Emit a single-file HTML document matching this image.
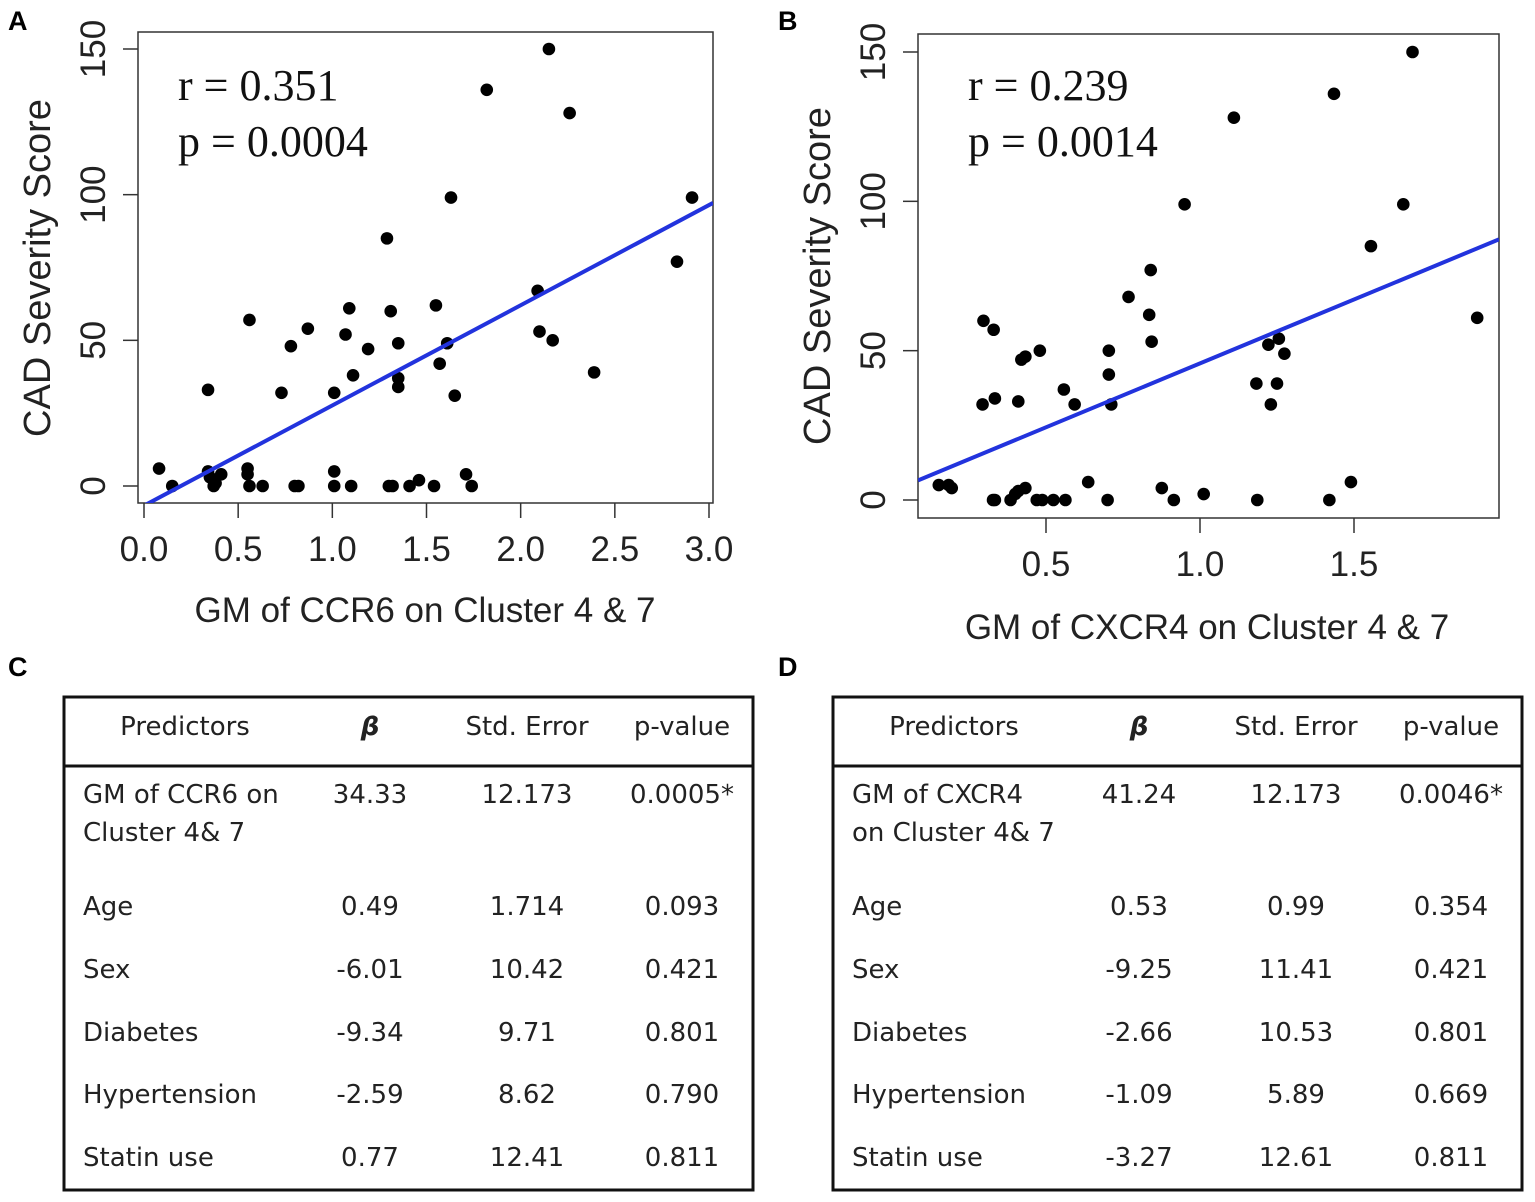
<!DOCTYPE html>
<html><head><meta charset="utf-8"><style>
body{margin:0;background:#fff;}
svg{display:block;}
.tk{font-family:"Liberation Sans",sans-serif;font-size:35px;fill:#222;}
.ttl{font-family:"Liberation Sans",sans-serif;font-size:35px;fill:#222;}
.ytl{font-family:"Liberation Sans",sans-serif;font-size:38px;fill:#222;}
.ann{font-family:"Liberation Serif",serif;font-size:44px;fill:#111;}
.lt{font-family:"Liberation Sans",sans-serif;font-size:27px;font-weight:bold;fill:#000;}
.tb{font-family:"DejaVu Sans","Liberation Sans",sans-serif;font-size:26px;fill:#222;}
</style></head><body>
<svg id="fig" width="1535" height="1202" viewBox="0 0 1535 1202">
<rect width="1535" height="1202" fill="#fff"/>
<text class="lt" x="8" y="30">A</text>
<text class="lt" x="778" y="30">B</text>
<text class="lt" x="8" y="676">C</text>
<text class="lt" x="778" y="676">D</text>
<g id="plotA"></g>
<g id="plotB"></g>
<g id="tabC"></g>
<g id="tabD"></g>
</svg>
<script>
const NS='http://www.w3.org/2000/svg';
// Panel A data
const aX=[0.08,0.15,0.34,0.35,0.34,0.37,0.38,0.41,0.55,0.55,0.56,0.56,0.63,0.73,0.78,0.80,0.82,0.87,1.01,1.01,1.01,1.07,1.09,1.10,1.11,1.19,1.29,1.30,1.32,1.31,1.35,1.35,1.35,1.41,1.46,1.54,1.55,1.57,1.61,1.63,1.65,1.71,1.74,1.82,2.09,2.10,2.15,2.17,2.26,2.39,2.83,2.91];
const aY=[6,0,33,3,5,0,1,4,6,4,0,57,0,32,48,0,0,54,32,5,0,52,61,0,38,47,85,0,0,60,49,37,34,0,2,0,62,42,49,99,31,4,0,136,67,53,150,50,128,39,77,99];
const aXTicks=[0,0.5,1,1.5,2,2.5,3];
const aXLabels=["0.0","0.5","1.0","1.5","2.0","2.5","3.0"];
const aYTicks=[0,50,100,150];
// Panel B data
const bX=[0.152,0.184,0.194,0.297,0.33,0.294,0.334,0.328,0.334,0.385,0.40,0.41,0.433,0.42,0.433,0.41,0.47,0.488,0.48,0.524,0.558,0.563,0.593,0.637,0.70,0.704,0.704,0.712,0.768,0.835,0.843,0.84,0.876,0.915,0.95,1.012,1.11,1.183,1.186,1.222,1.256,1.25,1.274,1.23,1.42,1.435,1.49,1.555,1.66,1.69,1.90];
const bY=[5,5,4,60,57,32,34,0,0,0,2,3,4,47,48,33,0,0,50,0,37,0,32,6,0,50,42,32,68,62,53,77,4,0,99,2,128,39,0,52,54,39,49,32,0,136,6,85,99,150,61];
const bXTicks=[0.5,1,1.5];
const bXLabels=["0.5","1.0","1.5"];
const bYTicks=[0,50,100,150];

function el(tag,attrs,parent,txt){const e=document.createElementNS(NS,tag);for(const k in attrs)e.setAttribute(k,attrs[k]);if(txt!==undefined)e.textContent=txt;parent.appendChild(e);return e;}

function plot(g,cfg,X,Y,xt,xl,yt){
  const sx=v=>cfg.x0+(v-cfg.xa)*(cfg.x1-cfg.x0)/(cfg.xb-cfg.xa);
  const sy=v=>cfg.y0-(v)*(cfg.y0-cfg.y1)/150;
  const box=el('rect',{x:cfg.bl,y:cfg.bt,width:cfg.br-cfg.bl,height:cfg.bb-cfg.bt,fill:'none',stroke:'#333','stroke-width':1.5},g);
  
  
  xt.forEach((t,i)=>{
    const l=el('line',{x1:sx(t),x2:sx(t),y1:cfg.bb,y2:cfg.bb+15,stroke:'#333','stroke-width':1.5},g);
    
    
    const tx=el('text',{class:'tk',x:sx(t),y:cfg.bb+58,'text-anchor':'middle'},g,xl[i]);
    
    
  });
  yt.forEach(t=>{
    const l=el('line',{x1:cfg.bl-15,x2:cfg.bl,y1:sy(t),y2:sy(t),stroke:'#333','stroke-width':1.5},g);
    
    
    const tx=el('text',{class:'tk',x:0,y:0,'text-anchor':'middle',transform:`translate(${cfg.bl-33},${sy(t)}) rotate(-90)`},g,String(t));
    
    
  });
  const n=X.length;let mx=0,my=0;for(let i=0;i<n;i++){mx+=X[i];my+=Y[i];}mx/=n;my/=n;
  let sxy=0,sxx=0;for(let i=0;i<n;i++){sxy+=(X[i]-mx)*(Y[i]-my);sxx+=(X[i]-mx)**2;}
  const b=sxy/sxx,a=my-b*mx;
  const xs=cfg.xa+(cfg.bl-cfg.x0)*(cfg.xb-cfg.xa)/(cfg.x1-cfg.x0);
  const xe=cfg.xa+(cfg.br-cfg.x0)*(cfg.xb-cfg.xa)/(cfg.x1-cfg.x0);
  for(let i=0;i<n;i++){
    const c=el('circle',{cx:sx(X[i]),cy:sy(Y[i]),r:6.3,fill:'#000'},g);
    
    
  }
  const cp=el('clipPath',{id:cfg.id+'clip'},g);el('rect',{x:cfg.bl,y:cfg.bt,width:cfg.br-cfg.bl,height:cfg.bb-cfg.bt},cp);
  const ln=el('line',{x1:sx(xs),y1:sy(a+b*xs),x2:sx(xe),y2:sy(a+b*xe),stroke:'#2233dd','stroke-width':4,'clip-path':`url(#${cfg.id}clip)`},g);
  
  
  const r=el('text',{class:'ann',x:cfg.ax,y:cfg.ay},g,cfg.r);
  
  
  const p=el('text',{class:'ann',x:cfg.ax,y:cfg.ay+56},g,cfg.p);
  
  
  const xtl=el('text',{class:'ttl',x:cfg.xtx,y:cfg.xty,'text-anchor':'middle'},g,cfg.xt);
  
  
  const ytl=el('text',{class:'ytl',x:0,y:0,'text-anchor':'middle',transform:`translate(${cfg.ytx},${cfg.yty}) rotate(-90)`},g,'CAD Severity Score');
  
  
}
plot(document.getElementById('plotA'),{id:'a',bl:138,br:713,bt:32,bb:503,x0:144,x1:709,xa:0,xb:3,y0:486,y1:49,ax:178,ay:100,r:'r = 0.351',p:'p = 0.0004',xt:'GM of CCR6 on Cluster 4 & 7',xtx:425,xty:622,ytx:50,yty:268},aX,aY,aXTicks,aXLabels,aYTicks);
plot(document.getElementById('plotB'),{id:'b',bl:918,br:1499,bt:34,bb:518,x0:1046,x1:1354,xa:0.5,xb:1.5,y0:500,y1:52,ax:968,ay:100,r:'r = 0.239',p:'p = 0.0014',xt:'GM of CXCR4 on Cluster 4 & 7',xtx:1207,xty:639,ytx:830,yty:276},bX,bY,bXTicks,bXLabels,bYTicks);

const cHead=["Predictors","β","Std. Error","p-value"];
const cRows=[["GM of CCR6 on|Cluster 4&  7","34.33","12.173","0.0005*"],["Age","0.49","1.714","0.093"],["Sex","-6.01","10.42","0.421"],["Diabetes","-9.34","9.71","0.801"],["Hypertension","-2.59","8.62","0.790"],["Statin use","0.77","12.41","0.811"]];
const dRows=[["GM of CXCR4|on Cluster 4&  7","41.24","12.173","0.0046*"],["Age","0.53","0.99","0.354"],["Sex","-9.25","11.41","0.421"],["Diabetes","-2.66","10.53","0.801"],["Hypertension","-1.09","5.89","0.669"],["Statin use","-3.27","12.61","0.811"]];
const rowY=[803,915,978,1041,1103,1166];
function table(g,ox,rows){
  const b=el('rect',{x:ox,y:697,width:689,height:493,fill:'none',stroke:'#111','stroke-width':3},g);
  
  
  const hl=el('line',{x1:ox,x2:ox+689,y1:766,y2:766,stroke:'#111','stroke-width':3},g);
  
  
  const cx=[ox+121,ox+306,ox+463,ox+618];
  cHead.forEach((h,i)=>{
    const t=el('text',{class:'tb',x:cx[i],y:735,'text-anchor':'middle'},g,h);
    if(i===1){t.setAttribute('font-style','italic');t.setAttribute('font-weight','bold');t.setAttribute('font-family','Liberation Serif,serif');t.setAttribute('font-size','32');}
    
    
  });
  rows.forEach((r,j)=>{
    const parts=r[0].split('|');
    parts.forEach((p,k)=>{
      const t=el('text',{class:'tb',x:ox+19,y:rowY[j]+k*38},g,p);
      
      
    });
    for(let i=1;i<4;i++){
      const t=el('text',{class:'tb',x:cx[i],y:rowY[j],'text-anchor':'middle'},g,r[i]);
      
      
    }
  });
}
table(document.getElementById('tabC'),64,cRows);
table(document.getElementById('tabD'),833,dRows);
</script>
</body></html>
